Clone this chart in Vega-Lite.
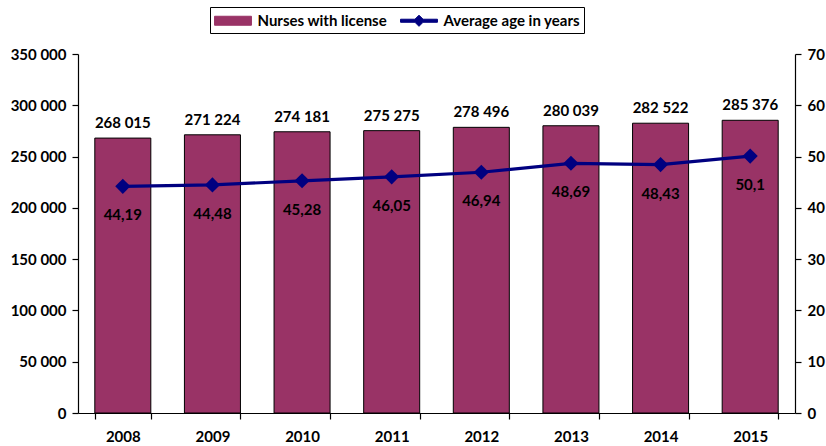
{
  "$schema": "https://vega.github.io/schema/vega-lite/v6.json",
  "width": 717,
  "height": 359,
  "autosize": {"type": "none"},
  "padding": {"left": 78, "top": 54, "right": 31, "bottom": 33},
  "background": "white",
  "config": {
    "locale": {"number": {"decimal": ",", "thousands": " ", "grouping": [3], "currency": ["", ""]}},
    "font": "Lato",
    "view": {"stroke": null},
    "axis": {"grid": false, "domainColor": "black", "tickColor": "black", "labelColor": "black", "labelFont": "Lato", "labelFontWeight": "bold", "labelFontSize": 15, "domainWidth": 1.2, "tickWidth": 1.2}
  },
  "data": {"values": [
    {"year": "2008", "nurses": 268015, "age": 44.19},
    {"year": "2009", "nurses": 271224, "age": 44.48},
    {"year": "2010", "nurses": 274181, "age": 45.28},
    {"year": "2011", "nurses": 275275, "age": 46.05},
    {"year": "2012", "nurses": 278496, "age": 46.94},
    {"year": "2013", "nurses": 280039, "age": 48.69},
    {"year": "2014", "nurses": 282522, "age": 48.43},
    {"year": "2015", "nurses": 285376, "age": 50.1}
  ]},
  "encoding": {
    "x": {"field": "year", "type": "ordinal", "title": null,
      "scale": {"paddingInner": 0.375, "paddingOuter": 0.1875},
      "axis": {"labelAngle": 0, "tickBand": "extent", "tickSize": 6, "labelPadding": 10}}
  },
  "layer": [
    {
      "layer": [
        {
          "mark": {"type": "bar", "stroke": "black", "strokeWidth": 1},
          "encoding": {
            "y": {"field": "nurses", "type": "quantitative", "title": null,
              "scale": {"domain": [0, 350000]},
              "axis": {"values": [0, 50000, 100000, 150000, 200000, 250000, 300000, 350000], "format": ",d", "tickSize": 6, "labelPadding": 6}},
            "color": {"datum": "Nurses with license", "type": "nominal",
              "scale": {"domain": ["Nurses with license", "Average age in years"], "range": ["#993366", "#000080"]},
              "legend": {"title": null, "orient": "none", "direction": "horizontal", "legendX": 132, "legendY": -47,
                "strokeColor": "black", "padding": 4, "labelFont": "Lato", "labelFontWeight": "bold", "labelFontSize": 15, "labelColor": "black",
                "symbolSize": 324, "symbolOffset": 9.5, "columnPadding": 10, "labelOffset": 15, "symbolStrokeWidth": 1,
                "symbolType": {"expr": "datum.value === 'Nurses with license' ? 'M-2.05,-0.5H2.05V0.5H-2.05Z' : 'M-2.05,-0.17H-0.45L0,-0.62L0.45,-0.17H2.05V0.17H0.45L0,0.62L-0.45,0.17H-2.05Z'"},
                "symbolStrokeColor": {"expr": "datum.value === 'Nurses with license' ? 'black' : '#000080'"}}}
          }
        },
        {
          "mark": {"type": "text", "baseline": "bottom", "dy": -7, "fontWeight": "bold", "fontSize": 15, "font": "Lato", "color": "black"},
          "encoding": {
            "y": {"field": "nurses", "type": "quantitative", "scale": {"domain": [0, 350000]}},
            "text": {"field": "nurses", "type": "quantitative", "format": ",d"}
          }
        }
      ]
    },
    {
      "layer": [
        {
          "mark": {"type": "line", "strokeWidth": 3.2, "color": "#000080",
            "point": {"shape": "diamond", "size": 230, "filled": true, "color": "#000080"}},
          "encoding": {
            "y": {"field": "age", "type": "quantitative", "title": null,
              "scale": {"domain": [0, 70]},
              "axis": {"orient": "right", "values": [0, 10, 20, 30, 40, 50, 60, 70], "tickSize": 6, "labelPadding": 6}},
            "color": {"datum": "Average age in years", "type": "nominal"}
          }
        },
        {
          "mark": {"type": "text", "baseline": "middle", "dy": 29, "fontWeight": "bold", "fontSize": 15, "font": "Lato", "color": "black"},
          "encoding": {
            "y": {"field": "age", "type": "quantitative", "scale": {"domain": [0, 70]}},
            "text": {"field": "age", "type": "quantitative", "format": ".2~f"}
          }
        }
      ]
    }
  ],
  "resolve": {"scale": {"y": "independent"}}
}
